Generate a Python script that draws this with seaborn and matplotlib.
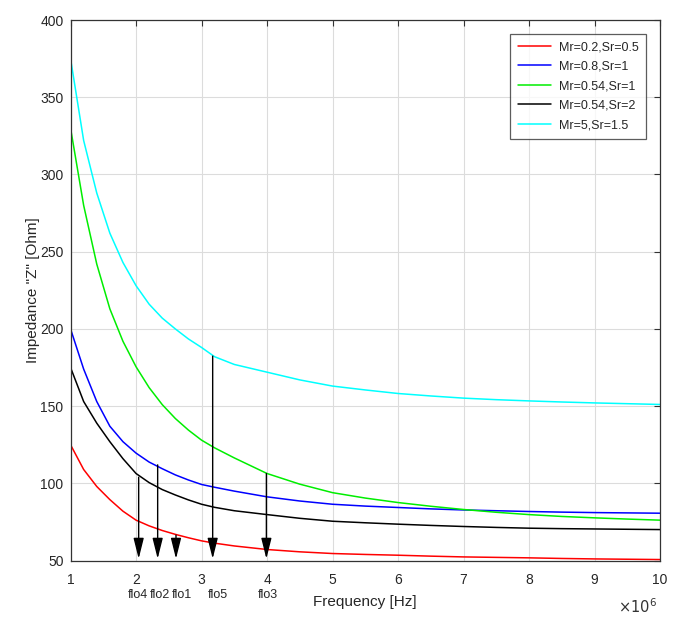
import numpy as np
import pandas as pd
import matplotlib
matplotlib.use("Agg")
import matplotlib.pyplot as plt
import seaborn as sns

# -------------------------------
# Data (frequency in units of 1e6 Hz, impedance in Ohm)
# -------------------------------
freq = [1, 1.2, 1.4, 1.6, 1.8, 2, 2.2, 2.4, 2.6, 2.8, 3, 3.2, 3.5,
        4, 4.5, 5, 5.5, 6, 6.5, 7, 7.5, 8, 8.5, 9, 9.5, 10]

z_red = [125, 109, 98, 89.5, 82, 76.2, 72.5, 69.5, 67, 64.8, 62.8, 61.3, 59.5,
         57.2, 55.7, 54.6, 54, 53.5, 52.9, 52.4, 52.1, 51.8, 51.4, 51.1, 50.9, 50.7]
z_blue = [200, 174, 153, 137, 127, 119.6, 113.8, 109.5, 105.5, 102.2, 99.3, 97.5, 95,
          91.3, 88.6, 86.5, 85.3, 84.4, 83.5, 82.8, 82.3, 81.8, 81.4, 81.1, 80.9, 80.7]
z_green = [330, 280, 242, 213, 192, 175.5, 162, 151, 142, 134.5, 128, 123, 116.5,
           106.4, 99.5, 94, 90.5, 87.6, 85.2, 83.1, 81.3, 79.8, 78.6, 77.7, 76.9, 76.2]
z_black = [175, 153, 139, 127, 116, 106.4, 100.5, 96, 92.5, 89.3, 86.5, 84.5, 82.3,
           79.8, 77.4, 75.5, 74.5, 73.6, 72.8, 72.1, 71.5, 71, 70.7, 70.5, 70.3, 70.1]
z_cyan = [375, 322, 288, 262, 243, 228, 216, 207, 200, 193.5, 188, 182, 177,
          172, 167, 163, 160.5, 158.2, 156.6, 155.2, 154.2, 153.4, 152.7, 152.1, 151.6, 151.1]

labels = ["Mr=0.2,Sr=0.5", "Mr=0.8,Sr=1", "Mr=0.54,Sr=1", "Mr=0.54,Sr=2", "Mr=5,Sr=1.5"]
colors = ["#ff0000", "#0000ff", "#00ee00", "#000000", "#00ffff"]

# markers: name, frequency, curve value where the arrow starts, label x
flo_names = ["flo4", "flo2", "flo1", "flo5", "flo3"]
flo_freq = [2.04, 2.33, 2.61, 3.17, 3.99]
flo_top = [104, 112, 66.5, 182.4, 106.4]
flo_label_x = [2.03, 2.37, 2.70, 3.25, 4.01]

# long-form table for seaborn
df = pd.DataFrame({
    "f": freq * 5,
    "Z": z_red + z_blue + z_green + z_black + z_cyan,
    "case": [lab for lab in labels for _ in freq],
})

# -------------------------------
# Plot
# -------------------------------
sns.set_style("white")
plt.rcParams["font.family"] = ["Liberation Sans", "DejaVu Sans"]

fig = plt.figure(figsize=(6.85, 6.25), dpi=100)
ax = fig.add_axes([0.103, 0.103, 0.8605, 0.865])

sns.lineplot(data=df, x="f", y="Z", hue="case", hue_order=labels,
             palette=colors, lw=1.1, ax=ax, sort=False)

# arrows from the curve down to the axis
for fx, top in zip(flo_freq, flo_top):
    ax.annotate("", xy=(fx, 51.2), xytext=(fx, top), zorder=5,
                arrowprops=dict(arrowstyle="-|>,head_length=1.2,head_width=0.3",
                                mutation_scale=10.5, color="black", lw=1,
                                shrinkA=0, shrinkB=0))

for name, lx in zip(flo_names, flo_label_x):
    ax.text(lx, -0.053, name, transform=ax.get_xaxis_transform(),
            ha="center", va="top", fontsize=9)

ax.set_xlim(1, 10)
ax.set_ylim(50, 400)
ax.set_xticks(range(1, 11))
ax.set_yticks(range(50, 401, 50))
ax.grid(True, color="#dcdcdc", lw=0.8)
ax.tick_params(direction="in", length=4, top=True, right=True, labelsize=10,
               color="#333333")
ax.tick_params(axis="x", pad=9)
ax.tick_params(axis="y", pad=5)
for s in ax.spines.values():
    s.set_color("#333333")
    s.set_linewidth(0.9)

ax.set_xlabel("Frequency [Hz]", fontsize=11, labelpad=6)
ax.set_ylabel('Impedance "Z" [Ohm]', fontsize=11)
ax.yaxis.set_label_coords(-0.052, 0.5)
ax.text(0.995, -0.068, r"$\times10^6$", transform=ax.transAxes,
        ha="right", va="top", fontsize=10.5, color="#333333")

leg = ax.legend(loc="upper right", fontsize=9, frameon=True, fancybox=False,
                edgecolor="#333333", handlelength=2.7, borderaxespad=1.1,
                labelspacing=0.6, borderpad=0.6, handletextpad=0.6)
leg.get_frame().set_linewidth(0.9)

fig.savefig("out.png", dpi=100)
